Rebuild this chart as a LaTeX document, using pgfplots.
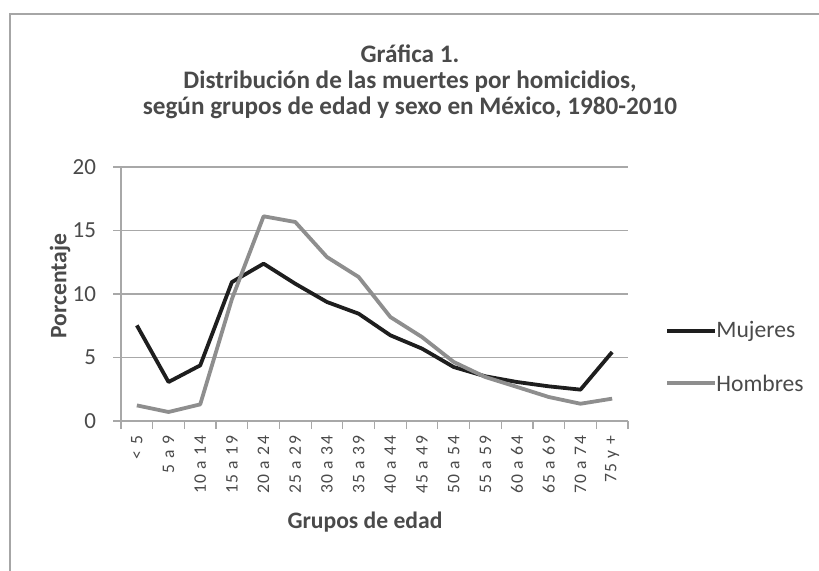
\documentclass[border=0pt]{standalone}
\usepackage{pgfplots}
\pgfplotsset{compat=1.18}
\usepackage{fontspec}
\setmainfont{Carlito}
\definecolor{mblack}{HTML}{1E1E1E}
\definecolor{hgray}{HTML}{8E8E8E}
\definecolor{gridc}{HTML}{A8A8A8}
\definecolor{txt}{HTML}{4A4A4A}
\begin{document}
\begin{tikzpicture}
\path[use as bounding box] (0,0) rectangle (409.5pt,285pt);
\draw[gray!70, line width=1.2pt] (5pt,-20pt) -- (5pt,278pt) -- (430pt,278pt);
\begin{axis}[
  at={(60.5pt,74.5pt)}, anchor=south west,
  scale only axis, width=253.5pt, height=127pt,
  xmin=-0.5, xmax=15.5, ymin=0, ymax=20,
  xtick={0,...,15},
  xticklabels={< 5,5 a 9,10 a 14,15 a 19,20 a 24,25 a 29,30 a 34,35 a 39,40 a 44,45 a 49,50 a 54,55 a 59,60 a 64,65 a 69,70 a 74,75 y +},
  x tick label style={rotate=90, anchor=east, font=\addfontfeatures{LetterSpace=8}\fontsize{8.8}{9}\selectfont, text=txt},
  minor xtick={-0.5,0.5,...,15.5},
  major x tick style={draw=none},
  minor x tick style={draw=gridc, line width=0.6pt},
  ytick={0,5,...,20},
  y tick label style={font=\fontsize{11.5}{13}\selectfont, text=txt, xshift=-5pt},
  /pgf/number format/assume math mode=true,
  ymajorgrids, grid style={gridc, line width=0.7pt},
  axis x line*=bottom, axis y line*=left,
  axis line style={gridc, line width=0.7pt, -},
  tick style={gridc, line width=0.6pt},
  tick align=outside, major tick length=4pt, minor tick length=4pt,
  clip=false,
]
\addplot[mblack, line width=1.9pt, line join=round] coordinates {
(0,7.53) (1,3.07) (2,4.38) (3,10.94) (4,12.39) (5,10.81) (6,9.37) (7,8.45)
(8,6.75) (9,5.70) (10,4.25) (11,3.52) (12,3.07) (13,2.73) (14,2.47) (15,5.43)};
\addplot[hgray, line width=1.9pt, line join=round] coordinates {
(0,1.23) (1,0.71) (2,1.31) (3,9.6) (4,16.12) (5,15.67) (6,12.91) (7,11.34)
(8,8.19) (9,6.61) (10,4.65) (11,3.46) (12,2.68) (13,1.89) (14,1.36) (15,1.76)};
\end{axis}
\node[align=center, font=\bfseries\fontsize{12.6}{13}\selectfont, text=txt] at (205pt,244pt)
  {Gráfica 1.\\Distribución de las muertes por homicidios,\\según grupos de edad y sexo en México, 1980-2010};
\node[rotate=90, font=\bfseries\fontsize{11.8}{13}\selectfont, text=txt] at (30pt,142pt) {Porcentaje};
\node[font=\bfseries\fontsize{11.8}{13}\selectfont, text=txt] at (182.5pt,24pt) {Grupos de edad};
\draw[mblack, line width=1.9pt] (333.5pt,119.5pt) -- (357.5pt,119.5pt);
\node[anchor=west, inner sep=0pt, font=\fontsize{11.8}{13}\selectfont, text=txt] at (358pt,119.5pt) {Mujeres};
\draw[hgray, line width=1.9pt] (333.5pt,93.5pt) -- (357.5pt,93.5pt);
\node[anchor=west, inner sep=0pt, font=\fontsize{11.8}{13}\selectfont, text=txt] at (358pt,93.5pt) {Hombres};
\end{tikzpicture}
\end{document}
